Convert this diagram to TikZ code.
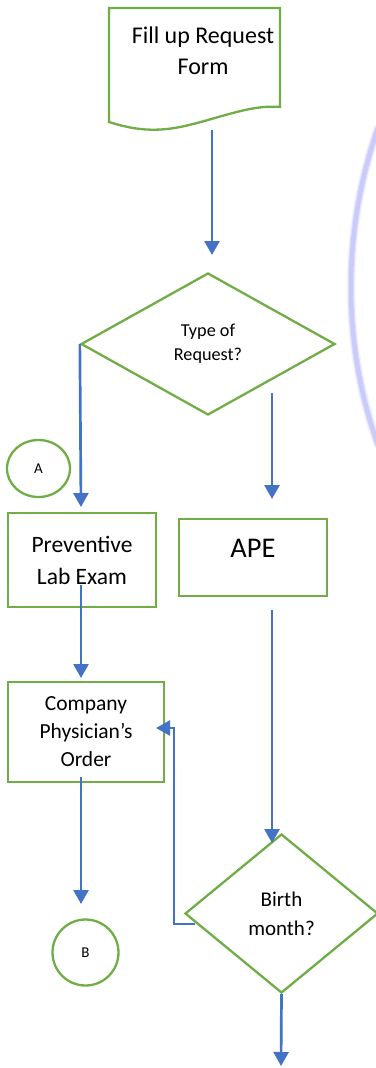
\documentclass[tikz,border=0pt]{standalone}
\usepackage{fontspec}
\setmainfont{Carlito}
\usetikzlibrary{shapes.geometric,arrows.meta}
\definecolor{flowgreen}{RGB}{112,173,71}
\definecolor{flowblue}{RGB}{68,114,196}
\definecolor{haze}{RGB}{198,198,250}

\begin{document}
\begin{tikzpicture}[x=1pt,y=-1pt,
  outline/.style={draw=flowgreen, line width=2.3pt, line join=miter},
  box/.style={outline, rectangle, inner sep=0pt, align=center},
  decision/.style={outline, diamond, inner sep=0pt, align=center},
  connector/.style={outline, ellipse, inner sep=0pt},
  flow/.style={draw=flowblue, line width=2.7pt,
    -{Triangle[length=14pt,width=15pt]}},
  txt/.style={align=center, inner sep=0pt},
  arcpath/.style={haze, line cap=round},
]
\useasboundingbox (0,0) rectangle (375,1068);

% soft lavender arc along the right edge
\foreach \w/\o in {9/0.2, 6.5/0.4, 4.5/0.8}{
  \draw[arcpath, line width=\w pt, opacity=\o]
    (378,128) .. controls (342,230) and (342,345) .. (378,445);
}

% document shape: request form
\draw[outline]
  (109,8) -- (280,8) -- (280,107)
  .. controls (250,104) and (215,120) .. (180,127)
  .. controls (150,133) and (128,128) .. (109,122) -- cycle;
\node[txt, font=\fontsize{24}{31}\selectfont] (form) at (203,51)
  {Fill up Request\\Form};

% first decision
\node[decision, minimum width=254pt, minimum height=142pt,
      font=\fontsize{18.2}{24}\selectfont] (req) at (208,344)
  {Type of\\Request?};

% off-page connectors
\node[connector, minimum width=63pt, minimum height=57pt,
      font=\fontsize{15}{18}\selectfont] (conA) at (38.5,468.5) {A};
\node[connector, minimum size=66pt,
      font=\fontsize{15}{18}\selectfont] (conB) at (85.5,952.5) {B};

% process boxes
\node[box, minimum width=148pt, minimum height=94pt,
      font=\fontsize{23.5}{32}\selectfont] (lab) at (82,560)
  {Preventive\\Lab Exam};
\node[box, minimum width=148pt, minimum height=77pt] (ape) at (253,557.5) {};
\node[txt, font=\fontsize{28.5}{32}\selectfont] (apetext) at (253,548) {APE};
\node[box, minimum width=156pt, minimum height=100pt,
      font=\fontsize{21.5}{28}\selectfont] (cpo) at (86,732)
  {Company\\Physician’s\\Order};

% second decision
\node[decision, minimum width=193pt, minimum height=159pt,
      font=\fontsize{21}{29}\selectfont] (birth) at (281.5,913.5)
  {Birth\\month?};

% connector end points
\coordinate (f1) at (212,130);
\coordinate (f2) at (212,255);
\coordinate (l1) at (81,507);
\coordinate (r0) at (272,393);
\coordinate (r1) at (272,499);
\coordinate (p0) at (81,585);
\coordinate (p1) at (81,678);
\coordinate (a0) at (272,610);
\coordinate (a1) at (272,843);
\coordinate (c0) at (81,777);
\coordinate (c1) at (81,904);
\coordinate (fb0) at (195,924);
\coordinate (fb1) at (156,728);
\coordinate (e1) at (281,1066);

% connectors
\draw[flow] (f1) -- (f2);
\draw[flow] (req.west) -- (l1);
\draw[flow] (r0) -- (r1);
\draw[flow] (p0) -- (p1);
\draw[flow] (a0) -- (a1);
\draw[flow] (c0) -- (c1);
\draw[flow, line width=2.3pt, line join=miter] (fb0) -- ++(-21,0) |- (fb1);
\draw[flow] (birth.south) -- (e1);
\end{tikzpicture}
\end{document}
